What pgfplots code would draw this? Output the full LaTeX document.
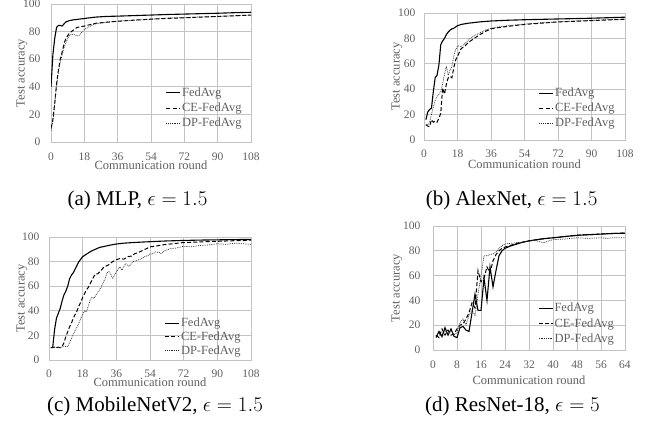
\RequirePackage{fix-cm}
\documentclass[border=0pt]{standalone}
\usepackage[no-math]{fontspec}
\setmainfont{Liberation Serif}
\usepackage{pgfplots}
\pgfplotsset{compat=1.18}
\definecolor{gridc}{RGB}{195,195,195}
\definecolor{txtc}{RGB}{95,95,95}
\pgfplotsset{
  panel/.style={
    scale only axis,
    xmin=0, ymin=0, ymax=100,
    ytick={0,20,...,100},
    grid=major,
    major grid style={draw=gridc, line width=0.8pt},
    axis line style={draw=gridc, line width=0.8pt},
    major tick length=0pt,
    tick label style={text=txtc, font=\fontsize{11.5}{12}\selectfont},
    /pgf/number format/assume math mode=true,
    label style={text=txtc, font=\fontsize{12.5}{13}\selectfont},
    ylabel={Test accuracy}, xlabel={Communication round},
    xticklabel style={anchor=center},
    yticklabel style={anchor=east},
    legend style={draw=none, fill=none, text=txtc, font=\fontsize{12.5}{13}\selectfont,
      inner sep=0pt, row sep=2.5pt, nodes={inner sep=1.2pt}, anchor=south east},
    legend cell align=left,
    legend image code/.code={\draw[##1] (0pt,0pt) -- (14pt,0pt);},
  },
  s1/.style={black, line width=1.1pt},
  s2/.style={black, line width=1.0pt, dash pattern=on 4pt off 2.2pt},
  s3/.style={black!85, line width=0.7pt, dash pattern=on 0.8pt off 1pt},
}
\begin{document}
\begin{tikzpicture}[x=1pt,y=1pt]
\path[use as bounding box] (0,0) rectangle (645,432);

% (a)
\begin{axis}[panel, at={(51pt,290pt)}, anchor=south west, width=200pt, height=138pt,
  xmax=108, xtick={0,18,...,108},
  xticklabel style={yshift=-15pt},
  yticklabel style={xshift=-7pt},
  xlabel style={at={(axis description cs:0.5,0)}, anchor=center, yshift=-23pt},
  ylabel style={at={(axis description cs:0,0.5)}, anchor=center, rotate=0, yshift=29pt},
  legend style={at={(0.96,0.09)}}]
\addplot[s1] coordinates {(0,40) (1,63) (2,75) (3,83) (4,84.5) (5,84.5) (6,84) (7,85.5) (8,87) (10,88) (12,88.5) (15,89) (18,89.5) (24,90.5) (30,91) (36,91.2) (45,91.6) (54,92) (63,92.4) (72,92.7) (81,93) (90,93.3) (99,93.7) (108,94)};
\addplot[s2] coordinates {(0,10) (1,16) (2,28) (3,42) (4,52) (5,60) (6,65) (7,71) (8,75) (9,77) (10,79) (12,81) (14,83) (16,83.5) (18,84) (21,85) (24,86) (30,86.8) (36,87.5) (45,88.3) (54,89) (63,89.6) (72,90) (81,90.5) (90,91) (99,91.5) (108,92)};
\addplot[s3] coordinates {(0,8) (1,15) (2,27) (3,41) (4,51) (5,58) (6,63) (7,68) (8,72) (9,75) (10,77) (11,78) (12,78) (13,77.5) (14,77) (15,77) (16,78.5) (17,80) (18,81.5) (20,83) (22,84.5) (24,85.5) (27,86.3) (30,86.8) (36,87.5) (45,88.3) (54,89) (63,89.8) (72,90.2) (81,90.6) (90,91) (99,91.4) (108,92)};
\legend{FedAvg,CE-FedAvg,DP-FedAvg}
\end{axis}

% (b)
\begin{axis}[panel, at={(424pt,292pt)}, anchor=south west, width=201pt, height=127pt,
  xmax=108, xtick={0,18,...,108},
  xticklabel style={yshift=-14pt},
  yticklabel style={xshift=-5pt},
  xlabel style={at={(axis description cs:0.5,0)}, anchor=center, yshift=-24pt},
  ylabel style={at={(axis description cs:0,0.5)}, anchor=center, yshift=27pt},
  legend style={at={(0.955,0.08)}}]
\addplot[s1] coordinates {(1,16) (2,22) (3,24) (4,25) (5,38) (6,49) (7,51) (8,59) (9,75) (10,78) (11,80) (12,83) (13,85) (14,86.5) (15,87.5) (16,88) (18,90) (20,91) (24,92) (30,93) (36,93.7) (45,94.3) (54,94.7) (63,95) (72,95.3) (81,95.6) (90,95.9) (99,96.3) (108,96.7)};
\addplot[s2] coordinates {(1,12) (2,11) (3,10.5) (4,16) (5,14) (6,15) (7,14) (8,17) (9,21) (10,41) (11,36) (12,44) (13,49) (14,50) (15,49) (16,57) (17,63) (18,66) (19,69) (20,72) (22,74) (24,77) (27,80) (30,83) (33,85.5) (36,87.5) (40,88.5) (45,89.5) (54,91) (63,92) (72,93) (81,93.5) (90,94) (99,94.5) (108,95)};
\addplot[s3] coordinates {(1,12) (2,12) (3,14) (4,20) (5,26) (6,31) (7,34) (8,36) (9,38) (10,44) (11,52) (12,58) (13,51) (14,55) (15,58) (16,66) (17,71) (18,74) (19,74) (20,73.5) (22,76) (24,79) (27,82) (30,84.5) (33,86.5) (36,88) (40,89) (45,90) (54,91.3) (63,92.3) (72,93) (81,93.7) (90,94.2) (99,94.8) (108,95.3)};
\legend{FedAvg,CE-FedAvg,DP-FedAvg}
\end{axis}

% (c)
\begin{axis}[panel, at={(49pt,72pt)}, anchor=south west, width=202pt, height=123pt,
  xmax=108, xtick={0,18,...,108},
  xticklabel style={yshift=-13.5pt},
  yticklabel style={xshift=-6pt},
  xlabel style={at={(axis description cs:0.5,0)}, anchor=center, yshift=-22pt},
  ylabel style={at={(axis description cs:0,0.5)}, anchor=center, yshift=27pt},
  legend style={at={(0.955,0.025)}, row sep=1pt}]
\addplot[s1] coordinates {(1,10) (2,10.5) (3,25) (4,34) (5,38) (6,42) (7,48) (8,53) (9,56) (10,60) (11,66) (12,69) (13,71) (14,74) (15,77) (16,80) (17,82) (18,84) (19,85) (20,86) (22,88) (24,89.5) (27,91.5) (30,92.5) (33,93.5) (36,94.3) (40,95) (45,95.5) (54,96.2) (63,96.8) (72,97.2) (81,97.5) (90,97.7) (99,97.9) (108,98)};
\addplot[s2] coordinates {(1,10) (2,10) (3,10.5) (4,10) (5,10.5) (6,10) (7,11) (8,14) (9,19) (10,23) (11,27) (12,30) (13,34) (14,37) (15,40) (16,44) (17,47) (18,51) (19,54) (20,57) (21,59) (22,62) (23,65) (24,68) (25,70) (26,70) (27,71.5) (28,73) (29,75) (30,76) (32,77.5) (34,80) (36,81.5) (38,82.5) (40,82) (42,84) (44,84.5) (46,86.5) (48,87.5) (50,89) (52,90.5) (54,92) (57,92.5) (60,93.5) (63,94) (66,94.5) (72,95.5) (81,96) (90,96.5) (99,97) (108,97.5)};
\addplot[s3] coordinates {(1,10) (3,10.5) (5,10) (7,10.5) (9,11) (10,11) (11,14) (12,17.6) (13,21) (14,24) (15,27) (16,30) (17,34) (18,37) (19,40) (20,39) (21,44) (22,48.6) (23,51) (24,50) (25,52.5) (26,55) (27,57) (28,59.5) (29,63) (30,66) (31,71) (32,72) (33,70) (34,66) (35,69) (36,71.6) (37,74) (38,75.7) (39,73) (40,76) (41,78.4) (42,77) (43,76) (44,78.5) (45,80) (47,81) (49,82) (51,84) (53,85) (54,86.5) (55,86) (57,87.8) (59,87.5) (60,86.5) (62,89) (65,90.6) (68,91) (72,92.5) (76,92) (80,93) (85,93.5) (90,94.5) (95,94) (99,95) (104,94.5) (108,94)};
\legend{FedAvg,CE-FedAvg,DP-FedAvg}
\end{axis}

% (d)
\begin{axis}[panel, at={(433pt,82pt)}, anchor=south west, width=192pt, height=124pt,
  xmax=64, xtick={0,8,...,64},
  xticklabel style={yshift=-15pt},
  yticklabel style={xshift=-9pt},
  xlabel style={at={(axis description cs:0.5,0)}, anchor=center, yshift=-30pt},
  ylabel style={at={(axis description cs:0,0.5)}, anchor=center, yshift=36pt},
  legend style={at={(0.95,0.04)}}]
\addplot[s1] coordinates {(1,10) (2,15) (3,11) (4,18) (5,12) (6,17) (7,11) (8,10) (9,18) (10,19) (11,16) (12,15) (13,30) (14,45) (15,32) (16,32) (17,58) (18,40) (19,67) (20,51) (21,64) (22,76) (23,80) (24,82) (26,84) (28,85.5) (30,87) (32,88) (36,89.5) (40,90.5) (44,91.5) (48,92.5) (52,93) (56,93.5) (60,94) (64,94.2)};
\addplot[s2] coordinates {(1,12) (2,10) (3,17) (4,12) (5,16) (6,12) (7,13) (8,17) (9,20) (10,21) (11,25) (12,30) (13,38) (14,34) (15,64) (16,55) (17,58) (18,67) (19,62) (20,72) (21,77) (22,80) (23,82) (24,83) (26,84.5) (28,86) (30,87) (32,88) (36,89.5) (40,90.5) (44,91.5) (48,92.5) (52,93) (56,93.5) (60,94) (64,94.3)};
\addplot[s3] coordinates {(1,11) (2,14) (3,10) (4,16) (5,13) (6,15) (7,12) (8,14) (9,22) (10,25) (11,20) (12,28) (13,32) (14,28) (15,45) (16,60) (17,76) (18,76) (19,77) (20,77.5) (21,79) (22,82) (23,84) (24,85.5) (26,86) (28,86.5) (30,87) (32,88) (34,88.5) (36,87) (37,86.5) (38,87.5) (40,89) (44,89.5) (48,90.5) (52,90) (56,90.5) (58,90) (60,90.5) (64,90.5)};
\legend{FedAvg,CE-FedAvg,DP-FedAvg}
\end{axis}

\node[font=\fontsize{21}{24}\selectfont] at (137.5,232) {(a) MLP, $\epsilon = 1.5$};
\node[font=\fontsize{21}{24}\selectfont] at (511.7,232) {(b) AlexNet, $\epsilon = 1.5$};
\node[font=\fontsize{21}{24}\selectfont] at (155,25.3) {(c) MobileNetV2, $\epsilon = 1.5$};
\node[font=\fontsize{21}{24}\selectfont] at (512.5,25.3) {(d) ResNet-18, $\epsilon = 5$};
\end{tikzpicture}
\end{document}
